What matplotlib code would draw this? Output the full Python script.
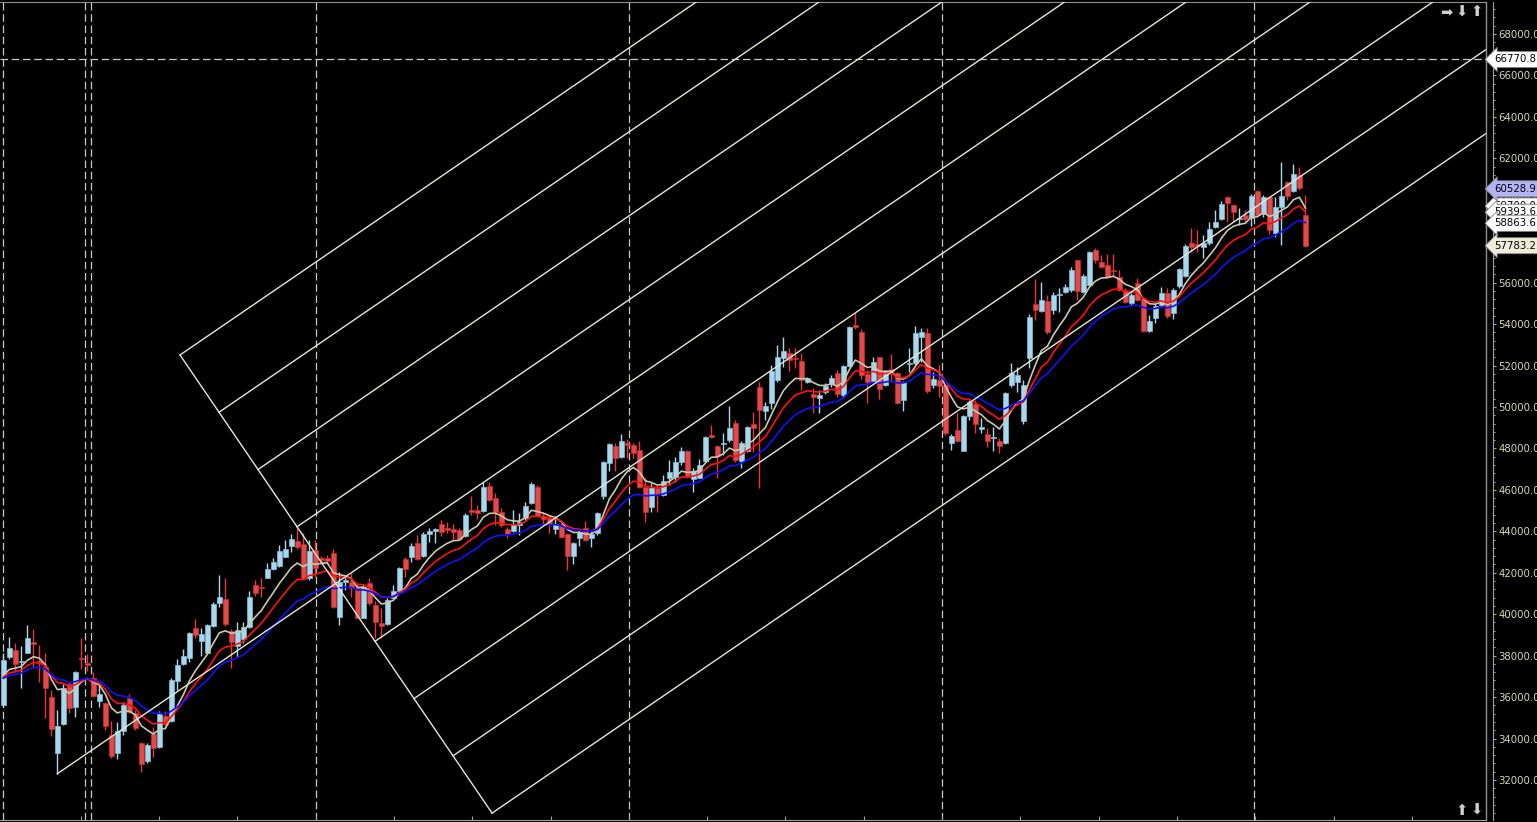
import numpy as np
import matplotlib
matplotlib.use("Agg")
import matplotlib.pyplot as plt
from matplotlib.transforms import blended_transform_factory
from matplotlib.ticker import MultipleLocator, FuncFormatter

# ---------------- data (prices in thousands) ----------------
opens = [35.61, 37.94, 38.27, 37.67, 38.14, 38.64, 37.75, 37.46, 35.98, 33.31,
 34.69, 36.63, 35.53, 37.88, 37.65, 36.90, 35.82, 35.71, 34.16, 33.29,
 34.36, 35.97, 35.21, 33.78, 32.92, 34.23, 33.60, 35.08, 34.86, 36.79,
 37.61, 37.90, 39.33, 38.70, 38.14, 39.44, 40.55, 40.73, 39.18, 38.48,
 38.80, 39.36, 41.40, 41.31, 41.76, 42.18, 42.32, 42.77, 43.29, 43.54,
 43.38, 41.73, 43.09, 42.70, 42.69, 42.95, 39.88, 41.57, 41.57, 41.25,
 39.83, 41.49, 40.44, 39.56, 39.51, 40.80, 41.13, 42.66, 42.77, 43.45,
 42.82, 43.85, 44.01, 44.37, 44.14, 44.09, 44.06, 43.79, 45.01, 45.03,
 44.99, 46.19, 45.59, 44.95, 44.11, 44.01, 44.30, 44.66, 45.35, 46.15,
 44.75, 44.66, 44.09, 44.30, 43.85, 42.82, 43.66, 44.14, 43.66, 43.90,
 45.72, 47.28, 48.13, 47.60, 48.25, 48.16, 47.92, 46.15, 45.19, 46.08,
 45.75, 46.59, 46.64, 47.36, 47.89, 46.51, 46.59, 47.41, 48.65, 48.12,
 48.21, 48.39, 49.24, 47.41, 47.87, 49.18, 50.95, 49.81, 50.21, 51.30,
 52.38, 52.59, 52.38, 52.22, 51.22, 50.61, 50.45, 50.71, 51.09, 51.62,
 50.58, 51.99, 53.96, 53.60, 51.57, 51.25, 52.40, 51.06, 51.83, 51.62,
 50.34, 52.06, 52.11, 53.39, 53.55, 51.06, 51.29, 51.06, 48.28, 48.89,
 47.89, 49.56, 50.13, 48.92, 48.70, 48.49, 48.36, 48.24, 51.06, 51.22,
 49.32, 52.35, 54.97, 54.63, 55.11, 54.68, 55.39, 55.56, 55.64, 57.08,
 55.56, 55.89, 57.58, 57.00, 56.85, 56.61, 56.27, 55.60, 55.00, 55.98,
 55.21, 53.68, 54.28, 54.92, 55.50, 54.52, 55.85, 56.34, 57.90, 57.85,
 57.74, 57.90, 58.70, 59.05, 60.13, 59.73, 59.07, 59.26, 59.10, 60.42,
 59.30, 60.13, 58.38, 59.63, 60.84, 60.42, 61.18, 59.26]

highs = [38.11, 38.91, 38.59, 38.46, 39.47, 39.28, 38.51, 38.11, 36.34, 35.40,
 36.61, 36.74, 37.27, 38.83, 38.06, 37.22, 36.58, 35.77, 34.84, 34.81,
 35.77, 36.13, 35.37, 33.84, 33.76, 34.57, 35.32, 35.32, 36.93, 37.83,
 38.31, 39.15, 39.79, 39.31, 39.55, 40.57, 41.89, 41.73, 39.28, 39.63,
 39.63, 41.11, 41.65, 41.76, 42.45, 42.72, 43.33, 43.58, 43.85, 44.14,
 43.90, 43.58, 43.58, 42.80, 42.86, 43.14, 42.05, 41.81, 41.97, 41.44,
 41.41, 41.73, 40.63, 40.28, 40.76, 41.41, 42.29, 42.77, 43.42, 43.82,
 43.95, 44.17, 44.14, 44.54, 44.46, 44.34, 44.14, 44.87, 45.72, 45.27,
 46.39, 46.36, 45.83, 45.11, 44.22, 45.03, 44.87, 45.43, 46.36, 46.23,
 44.91, 44.79, 44.75, 44.38, 43.90, 43.50, 44.06, 44.50, 44.01, 44.91,
 47.39, 48.25, 48.25, 48.68, 48.45, 48.25, 48.36, 46.59, 46.31, 46.25,
 46.72, 47.44, 47.60, 48.08, 47.92, 47.04, 47.49, 48.60, 49.13, 48.16,
 48.76, 50.05, 49.37, 48.36, 49.08, 49.74, 51.19, 50.22, 52.03, 52.99,
 53.39, 52.83, 52.83, 52.59, 51.46, 50.93, 50.82, 51.14, 51.54, 51.78,
 52.03, 53.91, 54.52, 53.76, 51.78, 52.43, 52.43, 51.78, 52.54, 51.70,
 51.25, 52.83, 53.92, 53.83, 53.80, 51.70, 52.03, 51.09, 48.68, 49.69,
 49.61, 50.34, 50.34, 49.45, 48.97, 49.05, 48.49, 50.74, 52.10, 51.91,
 51.30, 54.47, 56.18, 56.01, 55.40, 55.56, 55.72, 55.92, 56.77, 57.09,
 56.40, 57.53, 57.65, 57.33, 57.37, 57.37, 56.61, 55.72, 55.48, 56.21,
 55.24, 54.44, 55.00, 55.80, 55.76, 55.72, 56.72, 57.85, 58.62, 58.54,
 58.30, 58.94, 59.51, 59.96, 60.20, 59.78, 59.59, 59.51, 60.26, 60.47,
 60.23, 60.20, 60.15, 61.81, 60.91, 61.71, 61.60, 60.23]

lows = [35.53, 37.86, 37.22, 36.42, 38.11, 37.38, 36.74, 35.00, 34.13, 32.31,
 34.65, 35.24, 35.05, 37.35, 37.28, 35.98, 35.53, 34.40, 33.04, 32.99,
 34.16, 35.21, 34.40, 32.36, 32.84, 33.12, 33.55, 34.45, 34.81, 36.34,
 37.54, 37.70, 38.83, 37.99, 38.11, 39.39, 40.36, 39.44, 37.41, 37.94,
 38.59, 39.31, 40.86, 40.84, 41.73, 42.13, 42.29, 42.74, 43.01, 43.14,
 41.65, 41.65, 41.81, 42.45, 42.40, 40.28, 39.48, 41.17, 40.84, 39.80,
 39.80, 40.44, 38.83, 38.83, 39.48, 40.73, 41.09, 41.81, 42.53, 42.61,
 42.77, 43.50, 43.42, 43.79, 43.90, 43.58, 43.58, 43.74, 44.79, 44.59,
 44.95, 45.46, 44.30, 44.22, 43.66, 43.95, 43.82, 44.54, 45.30, 44.71,
 44.30, 43.90, 43.87, 43.66, 42.13, 42.40, 43.31, 43.53, 43.26, 43.82,
 45.56, 46.91, 46.93, 47.52, 47.52, 47.52, 46.07, 44.46, 44.91, 44.95,
 45.70, 46.23, 46.39, 47.20, 46.56, 45.88, 46.56, 47.36, 48.49, 46.59,
 47.68, 48.33, 47.36, 47.04, 47.84, 47.84, 46.11, 49.37, 49.91, 51.22,
 51.94, 51.75, 51.86, 50.82, 51.14, 49.69, 49.69, 50.61, 50.98, 50.50,
 50.45, 51.94, 53.76, 51.35, 50.21, 51.19, 50.38, 51.01, 51.22, 50.18,
 49.81, 51.70, 52.03, 52.19, 50.66, 50.90, 50.50, 48.65, 47.92, 48.33,
 47.87, 49.37, 48.76, 48.73, 48.08, 47.87, 47.76, 48.20, 50.98, 50.74,
 49.16, 51.90, 54.20, 54.60, 53.50, 54.47, 54.60, 55.48, 55.56, 55.16,
 55.48, 55.85, 56.93, 56.69, 56.24, 56.29, 55.60, 55.00, 54.92, 55.11,
 53.63, 53.60, 54.04, 54.84, 54.31, 54.25, 55.76, 56.29, 57.49, 57.49,
 57.17, 57.82, 58.62, 59.02, 58.94, 58.94, 58.78, 58.94, 58.75, 59.22,
 59.18, 58.33, 58.22, 57.82, 59.99, 60.39, 60.47, 57.74]

closes = [37.78, 38.39, 37.62, 37.74, 38.83, 38.54, 37.65, 36.45, 34.44, 34.60,
 36.46, 35.45, 37.22, 37.82, 37.53, 36.05, 36.14, 34.60, 33.17, 34.36,
 35.64, 35.29, 34.52, 32.78, 33.68, 33.55, 35.18, 34.69, 36.83, 37.54,
 37.98, 39.10, 38.99, 39.04, 39.47, 40.49, 40.84, 39.55, 38.67, 39.22,
 39.39, 40.82, 41.02, 41.24, 42.19, 42.51, 43.04, 43.14, 43.62, 43.25,
 41.69, 43.04, 42.21, 42.62, 42.57, 40.36, 41.57, 41.63, 41.25, 39.83,
 41.33, 40.52, 39.64, 39.44, 40.68, 41.13, 42.21, 42.18, 43.31, 42.66,
 43.89, 44.01, 44.09, 43.98, 44.05, 43.98, 43.63, 44.79, 44.95, 44.87,
 46.15, 45.51, 44.91, 44.30, 43.89, 44.30, 44.46, 45.24, 46.27, 44.75,
 44.59, 44.34, 44.34, 43.74, 42.82, 43.42, 43.95, 43.58, 43.85, 44.87,
 47.33, 48.20, 47.52, 48.36, 48.16, 47.76, 46.15, 44.91, 46.07, 45.80,
 46.43, 46.88, 47.36, 47.89, 46.64, 46.93, 47.20, 48.53, 48.55, 47.65,
 48.28, 48.97, 47.44, 48.28, 49.03, 49.00, 49.85, 50.05, 51.75, 52.40,
 52.70, 52.27, 52.32, 51.30, 51.38, 50.50, 50.58, 51.03, 51.38, 50.61,
 51.98, 53.84, 53.88, 51.54, 51.22, 52.15, 50.87, 51.74, 51.74, 50.21,
 51.19, 52.11, 53.55, 53.60, 50.77, 51.35, 51.03, 48.73, 48.60, 48.36,
 49.56, 50.26, 49.16, 49.03, 48.36, 48.55, 48.13, 50.67, 51.62, 51.54,
 51.06, 54.33, 54.68, 55.16, 53.63, 55.40, 55.45, 55.77, 56.61, 55.60,
 56.32, 57.48, 57.09, 56.77, 56.29, 56.55, 55.64, 55.08, 55.40, 55.16,
 53.68, 54.15, 54.87, 55.50, 54.41, 55.64, 56.64, 57.79, 57.74, 57.79,
 57.93, 58.59, 58.93, 59.78, 59.83, 59.43, 59.14, 59.05, 60.18, 59.26,
 60.12, 58.53, 59.63, 60.18, 60.20, 61.23, 60.55, 57.78]

ma_periods = [8, 13, 21]                     # white, red, blue
ma_colors = ["#c8c8b0", "#ff1010", "#1010ff"]

# parallel channel tool (bar index, price)
chan_anchor = (9.0, 32300.0)
chan_perp_start = (29.45, 52510.0)
chan_perp_end = (81.45, 30400.0)
chan_slope = 198.0            # price per bar
chan_count = 9

hline_price = 66770.8
separators = [0.0, 13.6, 14.6, 52.05, 104.2, 156.4, 208.5]

price_labels = [59700.0, 66770.8, 60528.9, 59393.6, 58863.6, 57783.2]
price_label_bg = ["#ffffff", "#ffffff", "#b4b4f4", "#ffffff", "#ffffff", "#eeeedc"]
hidden_axis_labels = [58000.0]   # covered by the price labels in the original

# ---------------- figure ----------------
W, H = 1537, 822
fig = plt.figure(figsize=(W / 100, H / 100), dpi=100, facecolor="black")
ax = fig.add_axes([0, 2 / H, 1486 / W, 818 / H], facecolor="black")

o = np.array(opens) * 1000
h = np.array(highs) * 1000
l = np.array(lows) * 1000
c = np.array(closes) * 1000
x = np.arange(len(o))

ppx = 48.26  # price per pixel
ax.set_xlim(-0.55, 247.1)
ax.set_ylim(68000 - (820 - 34) * ppx, 68000 + 32 * ppx)

up = c >= o
blue_fill, blue_edge = "#a8d8ec", "#86bcd8"
red_fill, red_edge = "#e44848", "#c43030"

ax.vlines(x[up], l[up], h[up], color=blue_fill, lw=1.0, zorder=2)
ax.vlines(x[~up], l[~up], h[~up], color="#ee3434", lw=1.0, zorder=2)
body_h = np.maximum(np.abs(c - o), 60)
ax.bar(x[up], body_h[up], bottom=np.minimum(o, c)[up], width=0.8,
       color=blue_fill, edgecolor=blue_edge, lw=0.5, zorder=2.5)
ax.bar(x[~up], body_h[~up], bottom=np.minimum(o, c)[~up], width=0.8,
       color=red_fill, edgecolor=red_edge, lw=0.5, zorder=2.5)

# moving averages (EMA)
seed = (h[0] + l[0]) / 2
for per, col in zip(ma_periods, ma_colors):
    a = 2.0 / (per + 1)
    vals = np.empty(len(c))
    prev = seed
    for k, v in enumerate(c):
        prev = prev + a * (v - prev)
        vals[k] = prev
    ax.plot(x, vals, color=col, lw=1.2, zorder=3)

# channel
sx, sy = chan_perp_start
ex, ey = chan_perp_end
ax.plot([sx, ex], [sy, ey], color="#e6e6d8", lw=1.0, zorder=4)
xr = 270.0
for k in range(chan_count):
    t = k / (chan_count - 1)
    px0 = sx + (ex - sx) * t
    py0 = sy + (ey - sy) * t
    if k == (chan_count - 1) // 2:
        px0, py0 = chan_anchor
    ax.plot([px0, xr], [py0, py0 + chan_slope * (xr - px0)], color="#e6e6d8", lw=1.0, zorder=4)

# separators & horizontal line
for s in separators:
    ax.axvline(s, color="#c8c8c8", lw=0.9, ls=(0, (6, 3)), zorder=1)
ax.axhline(hline_price, color="#c8c8c8", lw=0.9, ls=(0, (6, 3)), zorder=1)

# axes styling
ax.spines["left"].set_visible(False)
ax.spines["top"].set_color("#909090")
ax.spines["bottom"].set_color("#a0a0a0")
ax.spines["right"].set_color("#a0a0a0")
ax.spines["right"].set_position(("outward", 5))
ax.plot([1, 1], [0, 1], transform=ax.transAxes, color="#909090", lw=1.0, clip_on=False, zorder=5)

ax.yaxis.tick_right()
ax.yaxis.set_major_locator(MultipleLocator(2000))
ax.yaxis.set_minor_locator(MultipleLocator(400))
ax.yaxis.set_major_formatter(FuncFormatter(
    lambda v, p: "" if any(abs(v - hv) < 1 for hv in hidden_axis_labels) else f"{v:.1f}"))
ax.tick_params(axis="y", which="major", colors="#a0a0a0", labelcolor="#d8d8b4",
               length=2.5, width=0.8, pad=1.2, labelsize=7.3)
ax.tick_params(axis="y", which="minor", colors="#a0a0a0", length=1.6, width=0.8)

xt = np.arange(-3, 15) * 13.05 + 52.05
ax.set_xticks(xt)
ax.tick_params(axis="x", colors="#a0a0a0", length=3, width=0.8, labelbottom=False, direction="in")

# price labels on the right
tr = blended_transform_factory(fig.transFigure, ax.transData)
for val, bg in zip(price_labels, price_label_bg):
    ax.text(1494 / W, val, f"{val:.1f}", transform=tr, ha="left", va="center",
            fontsize=7.3, color="black", clip_on=False, zorder=10,
            bbox=dict(boxstyle="larrow,pad=0.3", fc=bg, ec="#808080", lw=0.6))

# corner icons
for xi, sym in zip([1440, 1455, 1470], ["➡", "⬇", "⬆"]):
    fig.text(xi / W, 1 - 12 / H, sym, color="#d0d0d0", fontsize=10.5, va="center")
for xi, sym in zip([1455, 1470], ["⬆", "⬇"]):
    fig.text(xi / W, 1 - 810 / H, sym, color="#d0d0d0", fontsize=10.5, va="center")

fig.savefig("out.png", dpi=100, facecolor="black")
